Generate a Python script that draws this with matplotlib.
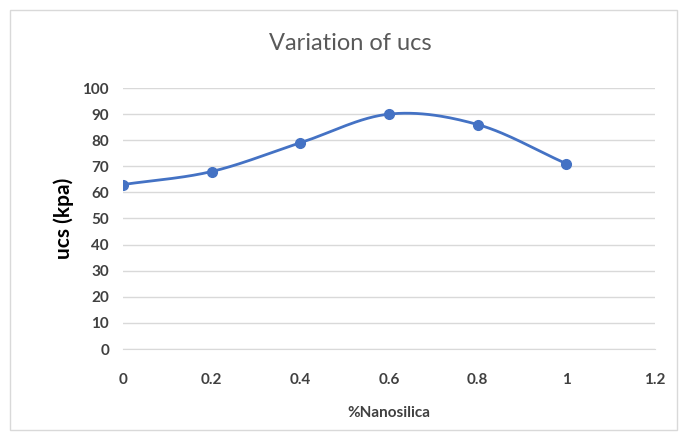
import numpy as np
import matplotlib
matplotlib.use("Agg")
import matplotlib.pyplot as plt
from matplotlib.patches import Rectangle

# data
nanosilica = [0, 0.2, 0.4, 0.6, 0.8, 1.0]
ucs = [63, 68, 79, 90, 86, 71]
xticks = [0, 0.2, 0.4, 0.6, 0.8, 1, 1.2]
xticklabels = ["0", "0.2", "0.4", "0.6", "0.8", "1", "1.2"]
yticks = list(range(0, 101, 10))

plt.rcParams['font.family'] = ['Lato', 'DejaVu Sans']


# smooth the line like Excel does (Catmull-Rom through the points)
def smoothLine(x, y, n=30):
    x = np.asarray(x, float)
    y = np.asarray(y, float)
    px = np.concatenate([[2 * x[0] - x[1]], x, [2 * x[-1] - x[-2]]])
    py = np.concatenate([[2 * y[0] - y[1]], y, [2 * y[-1] - y[-2]]])
    xs, ys = [], []
    t = np.linspace(0, 1, n)
    for i in range(1, len(px) - 2):
        for p, out in ((px, xs), (py, ys)):
            p0, p1, p2, p3 = p[i - 1], p[i], p[i + 1], p[i + 2]
            seg = 0.5 * ((2 * p1) + (-p0 + p2) * t
                         + (2 * p0 - 5 * p1 + 4 * p2 - p3) * t ** 2
                         + (-p0 + 3 * p1 - 3 * p2 + p3) * t ** 3)
            out.extend(seg)
    return np.array(xs), np.array(ys)


fig = plt.figure(figsize=(6.86, 4.36), dpi=100)
fig.patches.append(Rectangle((10 / 686, 6 / 436), 667 / 686, 420 / 436,
                             transform=fig.transFigure, fill=False,
                             edgecolor='#d9d9d9', linewidth=1))

ax = fig.add_axes([123 / 686, 87 / 436, 532 / 686, 261 / 436])

sx, sy = smoothLine(nanosilica, ucs)
ax.plot(sx, sy, color='#4472C4', linewidth=2, zorder=3)
ax.plot(nanosilica, ucs, 'o', color='#4472C4', markersize=7, zorder=4)

ax.set_xlim(0, 1.2)
ax.set_ylim(0, 100)
ax.set_xticks(xticks)
ax.set_xticklabels(xticklabels)
ax.set_yticks(yticks)
ax.grid(axis='y', color='#d9d9d9', linewidth=1)
ax.set_axisbelow(True)
for s in ['top', 'right', 'left']:
    ax.spines[s].set_visible(False)
ax.spines['bottom'].set_color('#d9d9d9')
ax.tick_params(length=0, labelsize=11, labelcolor='#404040')
ax.tick_params(axis='x', pad=17)
ax.tick_params(axis='y', pad=10)
for lab in ax.get_xticklabels() + ax.get_yticklabels():
    lab.set_fontweight('bold')

ax.set_xlabel('%Nanosilica', fontsize=11, fontweight='bold', color='#404040', labelpad=14)
ax.set_ylabel('ucs (kpa)', fontsize=15, fontweight='bold', color='black', labelpad=6)
fig.text(350 / 686, 1 - 43 / 436, 'Variation of ucs', ha='center', va='center',
         fontsize=17, color='#595959')

fig.savefig('out.png', dpi=100)
